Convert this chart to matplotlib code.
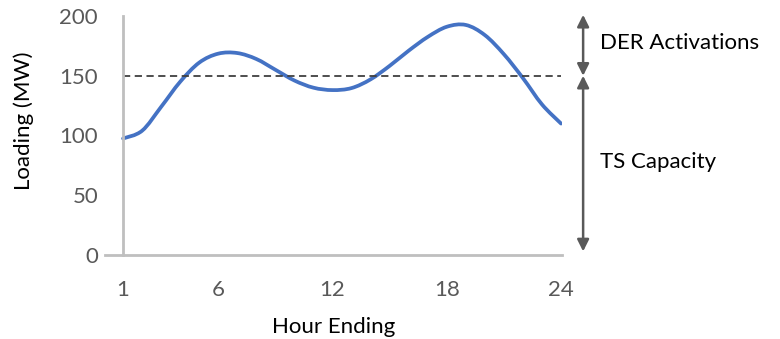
import matplotlib
matplotlib.use("Agg")
from matplotlib import pyplot as plt
from matplotlib.path import Path
from matplotlib.patches import PathPatch
import numpy as np

plt.rcParams['font.family'] = ['Lato', 'DejaVu Sans']

# hourly loading (MW)
hours = list(range(1, 25))
loading = [97.5, 104, 124, 145, 161, 168.5, 169, 164, 155, 146, 140, 138,
           139.7, 147, 158.3, 171, 182.5, 191, 192.5, 184, 168, 148, 126, 110]
threshold = 150
top = 200
xticks = [1, 6, 12, 18, 24]
yticks = [0, 50, 100, 150, 200]

fig = plt.figure(figsize=(7.8, 3.39), dpi=100)
ax = fig.add_axes([0.1346, 0.2478, 0.5859, 0.705])

# smooth line through the points, like a spreadsheet "smoothed line"
x = np.array(hours, dtype=float)
y = np.array(loading, dtype=float)
verts = [(x[0], y[0])]
codes = [Path.MOVETO]
for i in range(len(x) - 1):
    x0, y0 = (x[i - 1], y[i - 1]) if i > 0 else (x[i], y[i])
    x3, y3 = (x[i + 2], y[i + 2]) if i + 2 < len(x) else (x[i + 1], y[i + 1])
    c1 = (x[i] + (x[i + 1] - x0) / 6, y[i] + (y[i + 1] - y0) / 6)
    c2 = (x[i + 1] - (x3 - x[i]) / 6, y[i + 1] - (y3 - y[i]) / 6)
    verts += [c1, c2, (x[i + 1], y[i + 1])]
    codes += [Path.CURVE4] * 3
ax.add_patch(PathPatch(Path(verts, codes), facecolor='none',
                       edgecolor='#4472C4', lw=2.7, capstyle='round'))

ax.plot([hours[0], hours[-1]], [threshold, threshold], color='#404040',
        lw=1.3, dashes=(4, 2.5))

ax.set_xlim(0.05, 24.05)
ax.set_ylim(0, top)
ax.set_xticks(xticks)
ax.set_yticks(yticks)
ax.tick_params(length=0, labelsize=16, colors='#595959')
ax.tick_params(axis='y', pad=18)
ax.tick_params(axis='x', pad=18)
for s in ['top', 'right']:
    ax.spines[s].set_visible(False)
ax.spines['left'].set_position(('data', 1))
for s in ['left', 'bottom']:
    ax.spines[s].set_color('#BFBFBF')
    ax.spines[s].set_linewidth(2)

ax.set_xlabel('Hour Ending', fontsize=16, labelpad=12)
ax.set_ylabel('Loading (MW)', fontsize=16)
ax.yaxis.set_label_coords(-0.155, 0.56)

# arrows at the right
ax_x = 25.16
arrow = dict(arrowstyle='<|-|>,head_length=0.7,head_width=0.35',
             color='#595959', lw=1.8, shrinkA=0, shrinkB=0)
ax.annotate('', xy=(ax_x, top + 1), xytext=(ax_x, threshold),
            arrowprops=arrow, annotation_clip=False)
ax.annotate('', xy=(ax_x, threshold), xytext=(ax_x, 3),
            arrowprops=arrow, annotation_clip=False)
ax.text(26.05, (top + threshold) / 2 + 2, 'DER Activations', fontsize=16,
        va='center', ha='left', clip_on=False)
ax.text(26.05, 78, 'TS Capacity', fontsize=16, va='center', ha='left',
        clip_on=False)

fig.savefig('out.png', dpi=100)
